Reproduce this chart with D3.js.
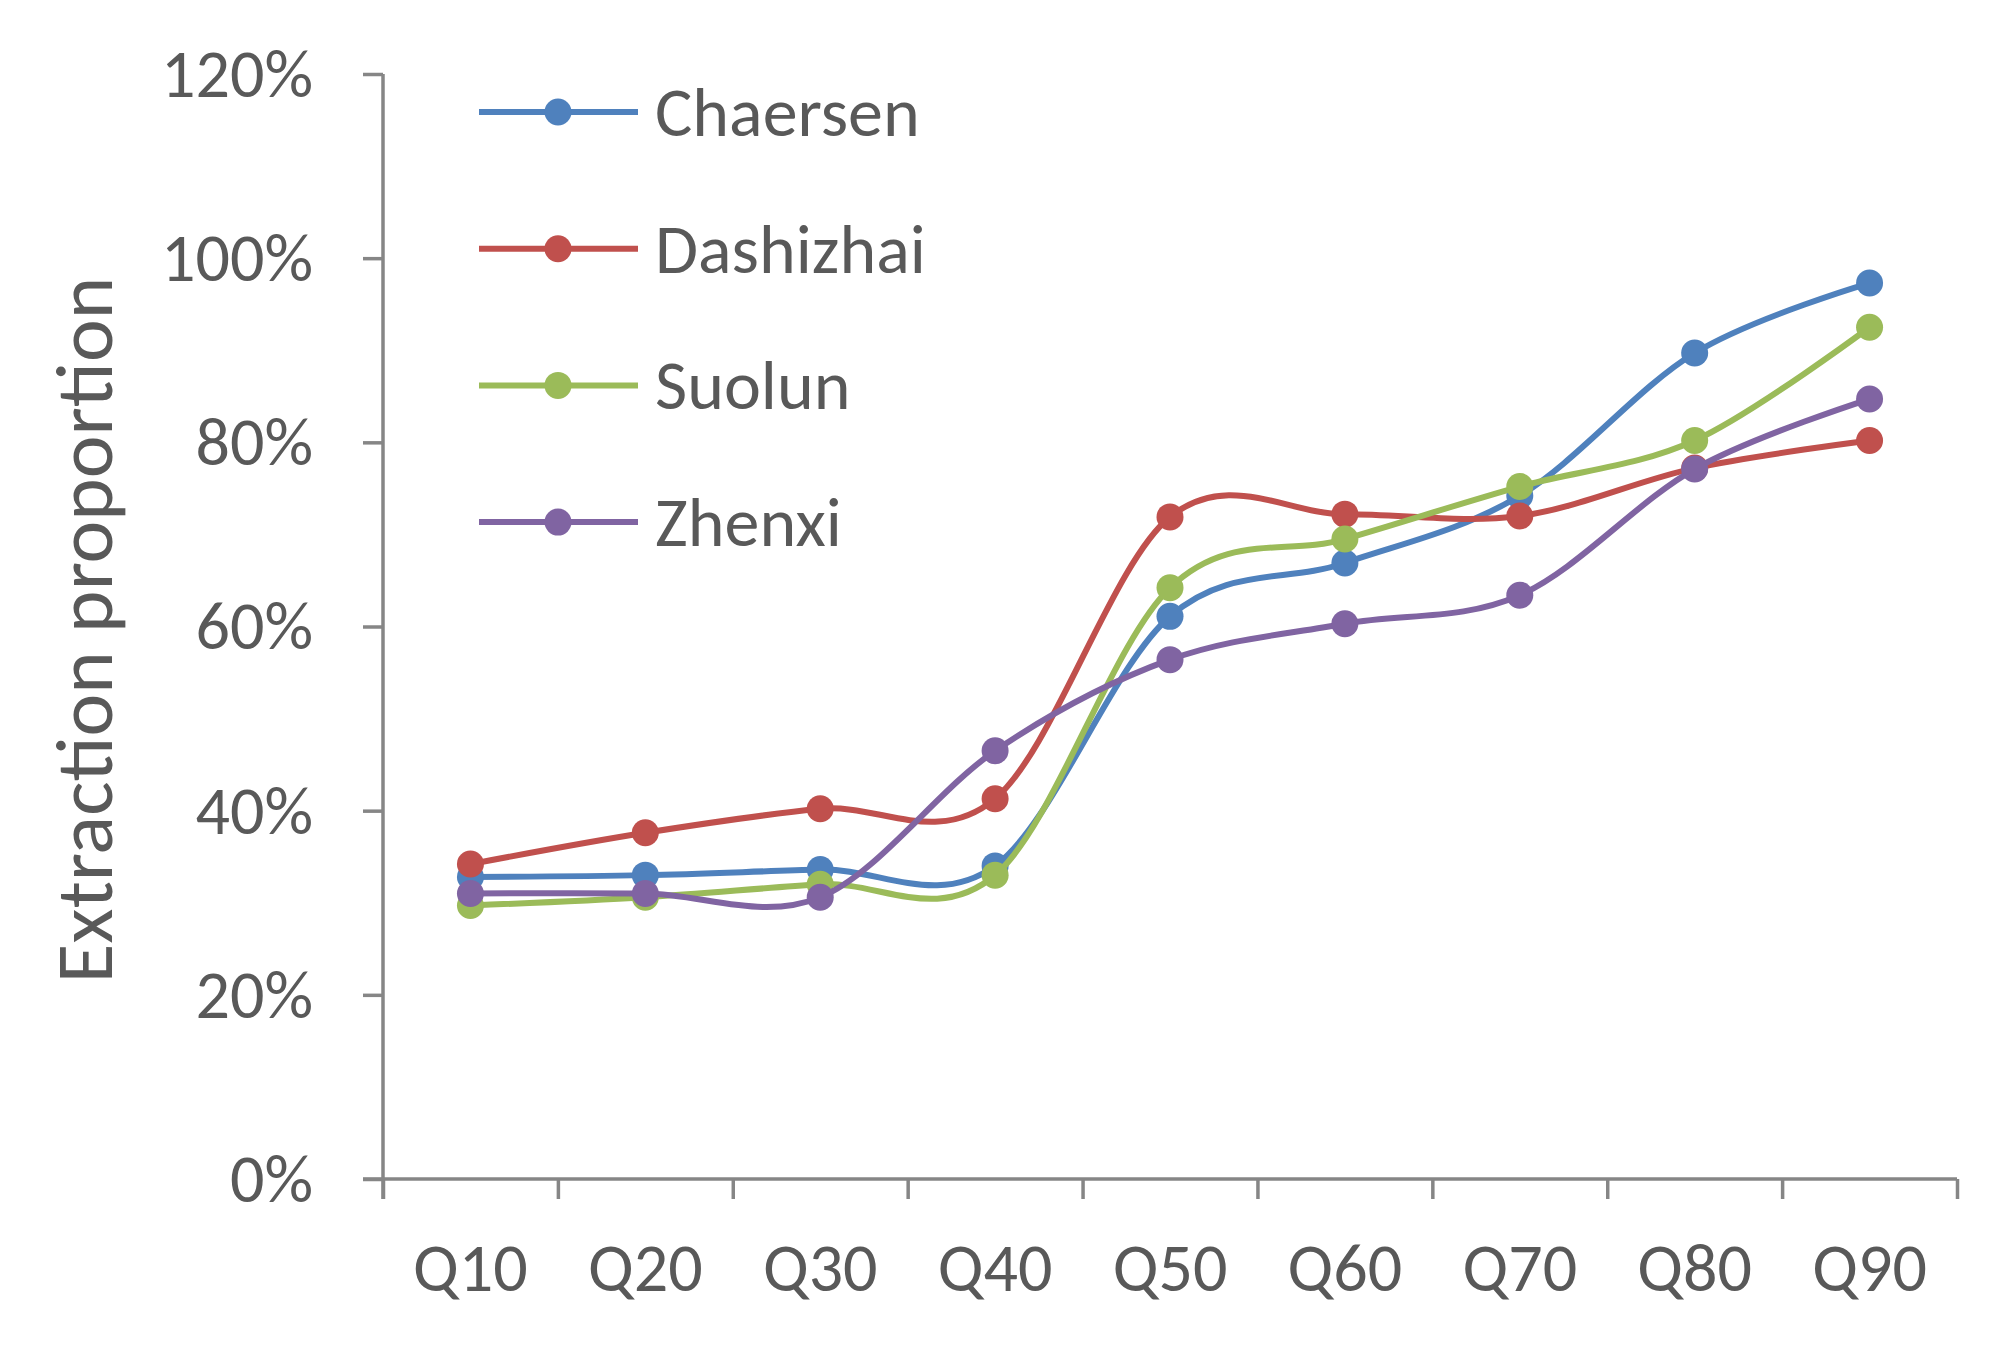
<!DOCTYPE html>
<html>
<head>
<meta charset="utf-8">
<script src="https://cdn.jsdelivr.net/npm/d3@7/dist/d3.min.js"></script>
<style>
  html, body { margin: 0; padding: 0; background: #fff; }
  svg text { font-family: Carlito, Calibri, Lato, "Open Sans", sans-serif; fill: #595959; }
</style>
</head>
<body>
<svg id="chart" width="2008" height="1348"></svg>
<script>
// ---- data ----
const categories = ["Q10", "Q20", "Q30", "Q40", "Q50", "Q60", "Q70", "Q80", "Q90"];
const seriesNames = ["Chaersen", "Dashizhai", "Suolun", "Zhenxi"];
const chaersen  = [0.328, 0.330, 0.336, 0.340, 0.611, 0.669, 0.742, 0.897, 0.973];
const dashizhai = [0.342, 0.376, 0.402, 0.413, 0.719, 0.722, 0.720, 0.772, 0.802];
const suolun    = [0.297, 0.306, 0.320, 0.330, 0.642, 0.695, 0.752, 0.802, 0.925];
const zhenxi    = [0.310, 0.310, 0.306, 0.465, 0.564, 0.603, 0.634, 0.771, 0.847];
const seriesValues = [chaersen, dashizhai, suolun, zhenxi];
const seriesColors = ["#4F81BD", "#C0504D", "#9BBB59", "#8064A2"];
const yTickValues = [0, 0.2, 0.4, 0.6, 0.8, 1.0, 1.2];
const yTitle = "Extraction proportion";

// ---- layout ----
const svg = d3.select("#chart");
const plotLeft = 383, plotRight = 1957, plotTop = 74, plotBottom = 1179;
const axisColor = "#868686";

const x = d3.scaleBand().domain(categories).range([plotLeft, plotRight]).padding(0);
const xEdges = d3.scaleLinear().domain([0, categories.length]).range([plotLeft, plotRight]);
const y = d3.scaleLinear().domain([0, 1.2]).range([plotBottom, plotTop]);

// y axis
const yAxis = svg.append("g").attr("transform", `translate(${plotLeft},0)`)
  .call(d3.axisLeft(y).tickValues(yTickValues).tickSize(20).tickPadding(50).tickFormat(d3.format(".0%")));
yAxis.select(".domain").remove();
yAxis.selectAll(".tick line").attr("stroke", axisColor).attr("stroke-width", 3.5);
yAxis.selectAll(".tick text").attr("font-size", 68).attr("dy", "0.33em").attr("fill", "#595959");
yAxis.attr("font-family", null);
svg.append("line").attr("x1", plotLeft).attr("x2", plotLeft).attr("y1", plotTop).attr("y2", plotBottom + 20)
  .attr("stroke", axisColor).attr("stroke-width", 3.5);

// x axis ticks (band edges)
const xTicks = svg.append("g").attr("transform", `translate(0,${plotBottom})`)
  .call(d3.axisBottom(xEdges).tickValues(d3.range(0, categories.length + 1)).tickSize(20).tickFormat(""));
xTicks.select(".domain").remove();
xTicks.selectAll(".tick line").attr("stroke", axisColor).attr("stroke-width", 3.5);
svg.append("line").attr("x1", plotLeft - 20).attr("x2", plotRight).attr("y1", plotBottom).attr("y2", plotBottom)
  .attr("stroke", axisColor).attr("stroke-width", 3.5);

// x labels
const xLab = svg.append("g").attr("transform", `translate(0,${plotBottom})`)
  .call(d3.axisBottom(x).tickSize(0).tickPadding(0));
xLab.select(".domain").remove();
xLab.attr("font-family", null);
xLab.selectAll(".tick text").attr("font-size", 68).attr("y", 112).attr("dy", 0).attr("fill", "#595959");

// y title
svg.append("text").attr("transform", "translate(112,630) rotate(-90)")
  .attr("text-anchor", "middle").attr("font-size", 81).text(yTitle);

// series
const line = d3.line()
  .x((d, i) => x(categories[i]) + x.bandwidth() / 2)
  .y(d => y(d))
  .curve(d3.curveCatmullRom.alpha(0));

seriesValues.forEach((vals, si) => {
  const g = svg.append("g");
  g.append("path").attr("d", line(vals)).attr("fill", "none")
    .attr("stroke", seriesColors[si]).attr("stroke-width", 6).attr("stroke-linejoin", "round");
  g.selectAll("circle").data(vals).enter().append("circle")
    .attr("cx", (d, i) => x(categories[i]) + x.bandwidth() / 2)
    .attr("cy", d => y(d)).attr("r", 13.5).attr("fill", seriesColors[si]);
});

// legend
const legend = svg.append("g");
seriesNames.forEach((name, i) => {
  const cy = 112 + i * 136.7;
  legend.append("line").attr("x1", 479).attr("x2", 638).attr("y1", cy).attr("y2", cy)
    .attr("stroke", seriesColors[i]).attr("stroke-width", 6);
  legend.append("circle").attr("cx", 558).attr("cy", cy).attr("r", 13.5).attr("fill", seriesColors[i]);
  legend.append("text").attr("x", 655).attr("y", cy + 24).attr("font-size", 70).text(name);
});
</script>
</body>
</html>
